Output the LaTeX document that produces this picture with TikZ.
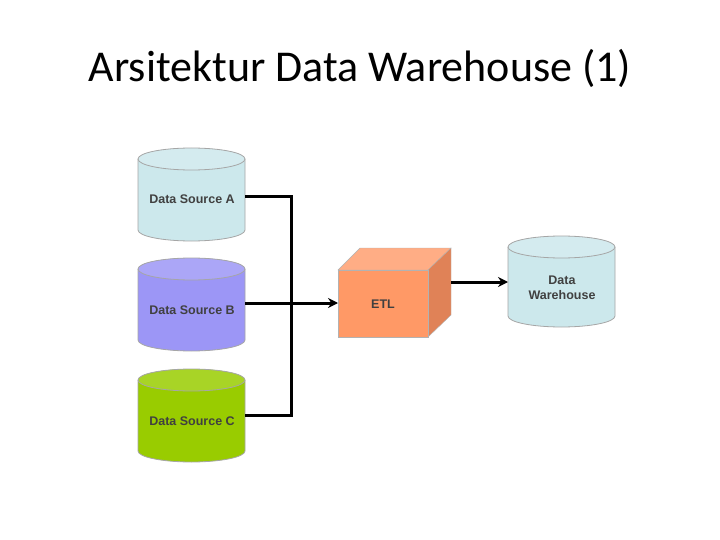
\documentclass[tikz,border=0pt]{standalone}
\usepackage{fontspec}
\usetikzlibrary{arrows.meta}
\setmainfont{Carlito}
\newfontfamily\lbl{Liberation Sans}
\begin{document}
\begin{tikzpicture}[x=1pt,y=-1pt,
  cyl/.style={draw=gray!70,line width=0.8pt},
  lab/.style={font=\lbl\bfseries\fontsize{12.5}{15}\selectfont,text=black!75,align=center},
  conn/.style={line width=3pt,black},
  arr/.style={conn,-{Stealth[length=10pt,width=10pt]}}]
\useasboundingbox (0,0) rectangle (720,540);
\fill[white] (0,0) rectangle (720,540);
\node[font=\fontsize{44}{50}\selectfont] (title) at (360,68) {Arsitektur Data Warehouse (1)};
\newcommand{\mycyl}[6]{%
  \fill[#6] (#1,#2+#5) -- (#1,#2+#4-#5) arc[start angle=180,end angle=360,x radius=#3/2,y radius=-#5] -- (#1+#3,#2+#5) arc[start angle=0,end angle=180,x radius=#3/2,y radius=-#5] -- cycle;
  \draw[cyl] (#1,#2+#5) -- (#1,#2+#4-#5) arc[start angle=180,end angle=360,x radius=#3/2,y radius=-#5] -- (#1+#3,#2+#5);
  \draw[cyl,fill=#6!85!white] (#1+#3/2,#2+#5) ellipse[x radius=#3/2,y radius=#5];
}
\definecolor{cA}{HTML}{CCE8EC}
\definecolor{cB}{HTML}{9C96F6}
\definecolor{cC}{HTML}{99CC00}
\definecolor{etlF}{HTML}{FF9966}
\definecolor{etlT}{HTML}{FFAD85}
\definecolor{etlS}{HTML}{E08257}
\mycyl{138}{148}{107}{93}{11}{cA}
\mycyl{138}{258}{107}{93}{11}{cB}
\mycyl{138}{369}{107}{93}{11}{cC}
\mycyl{508}{236}{107}{91}{11}{cA}
\node[lab] (A) at (192,199) {Data Source A};
\node[lab] (B) at (192,310) {Data Source B};
\node[lab] (C) at (192,421) {Data Source C};
\node[lab] (DW) at (562,288) {Data\\Warehouse};
\draw[gray!60,fill=etlT] (338,270) -- (360,248) -- (451,248) -- (428,270) -- cycle;
\draw[gray!60,fill=etlS] (428,270) -- (451,248) -- (451,315) -- (428,337) -- cycle;
\draw[gray!60,fill=etlF] (338,270) rectangle (428,337);
\node[lab] (ETL) at (383,304) {ETL};
\coordinate (ea) at (245,197);
\coordinate (eb) at (245,303);
\coordinate (ec) at (245,415);
\coordinate (j) at (291,303);
\coordinate (ein) at (338,303);
\coordinate (eout) at (451,282);
\coordinate (dwin) at (508,282);
\draw[conn] (ea) -| (j);
\draw[conn] (ec) -| (j);
\draw[arr] (eb) -- (ein);
\draw[arr] (eout) -- (dwin);
\end{tikzpicture}
\end{document}
